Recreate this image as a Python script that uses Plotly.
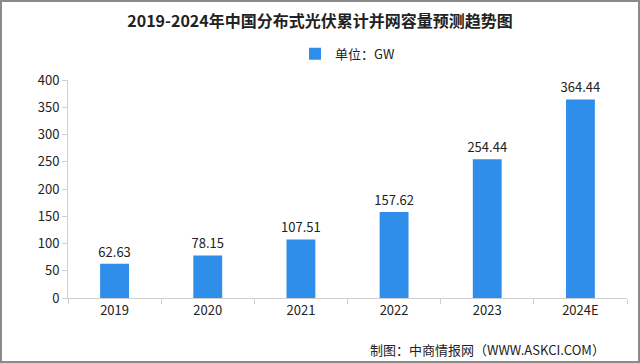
import plotly.graph_objects as go

categories = ["2019", "2020", "2021", "2022", "2023", "2024E"]
values = [62.63, 78.15, 107.51, 157.62, 254.44, 364.44]
y_ticks = [0, 50, 100, 150, 200, 250, 300, 350, 400]
title_text = "2019-2024年中国分布式光伏累计并网容量预测趋势图"
legend_name = "单位：GW"
source_text = "制图：中商情报网（WWW.ASKCI.COM）"

FONT = "Noto Sans CJK SC"

fig = go.Figure()
fig.add_trace(go.Bar(
    x=categories, y=values, name=legend_name,
    marker=dict(color="#2F8EEA", line=dict(width=0)),
    width=0.31,
    text=[f"{v:.2f}" for v in values],
    textposition="outside",
    constraintext="none",
    textfont=dict(family=FONT, size=13, color="#222222"),
    cliponaxis=False,
    showlegend=True,
))

fig.update_layout(
    width=640, height=363,
    margin=dict(l=68, r=13, t=80, b=65),
    paper_bgcolor="white", plot_bgcolor="white",
    title=dict(text="<b>" + title_text + "</b>", x=0.5, xanchor="center",
               y=0.94, yanchor="middle",
               font=dict(family=FONT, size=16, color="#222222")),
    legend=dict(orientation="h", x=0.5, xanchor="center", y=1.12, yanchor="middle",
                font=dict(family=FONT, size=13, color="#222222"),
                itemwidth=30, bgcolor="rgba(0,0,0,0)"),
    font=dict(family=FONT),
)

fig.update_yaxes(range=[0, 400], tickvals=y_ticks, showgrid=False,
                 showline=True, linecolor="#D0D0D0", linewidth=1,
                 ticks="outside", tickcolor="#D0D0D0", ticklen=5,
                 tickfont=dict(family=FONT, size=13, color="#222222"),
                 zeroline=False)
fig.update_xaxes(showgrid=False, showline=True, linecolor="#D0D0D0", linewidth=1,
                 ticks="outside", tickcolor="#D0D0D0", ticklen=5,
                 tickson="boundaries",
                 tickfont=dict(family=FONT, size=13, color="#222222"))

fig.add_annotation(text=source_text, xref="paper", yref="paper",
                   x=0.965, xanchor="right", y=-0.235, yanchor="middle",
                   showarrow=False,
                   font=dict(family=FONT, size=13, color="#222222"))

# outer frame of the image
fig.add_shape(type="rect", xref="paper", yref="paper",
              x0=-67/559, x1=1+12/559, y0=-64/218, y1=1+79/218,
              line=dict(color="#8A8A8A", width=2), layer="above")

fig.write_html("out.html", config={"displayModeBar": False},
               post_script="document.body.style.margin='0';")
